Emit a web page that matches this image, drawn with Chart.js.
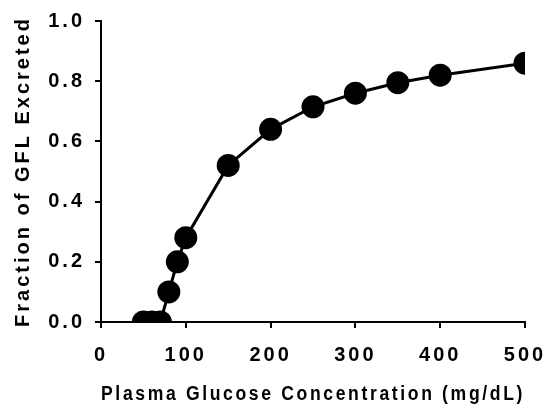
<!DOCTYPE html>
<html>
<head>
<meta charset="utf-8">
<script src="https://cdn.jsdelivr.net/npm/chart.js@4"></script>
<style>
  html, body { margin: 0; padding: 0; background: #fff; }
  #wrap { width: 554px; height: 406px; }
</style>
</head>
<body>
<div id="wrap"><canvas id="chart" width="554" height="406"></canvas></div>
<script>
const glucose = [50, 60, 70, 80, 90, 100, 150, 200, 250, 300, 350, 400, 500];
const fractionExcreted = [0, 0, 0, 0.1, 0.2, 0.28, 0.52, 0.64, 0.715, 0.76, 0.795, 0.82, 0.86];
const xTicks = [0, 100, 200, 300, 400, 500];
const yTicks = [0, 0.2, 0.4, 0.6, 0.8, 1.0];

const tickFont = { family: "Liberation Sans", size: 20, weight: "bold" };
const titleFont = { family: "Liberation Sans", size: 20, weight: "bold" };

const points = glucose.map((g, i) => ({ x: g, y: fractionExcreted[i] }));

// the original uses spaced-out Arial bold for all text
const spacing = {
  id: "spacing",
  beforeDraw(chart) {
    chart.ctx.letterSpacing = "3px";
  },
};

new Chart(document.getElementById("chart").getContext("2d"), {
  type: "scatter",
  data: {
    datasets: [
      {
        data: points,
        showLine: true,
        borderColor: "#000",
        borderWidth: 3,
        pointBackgroundColor: "#000",
        pointBorderColor: "#000",
        pointRadius: 10,
        pointHoverRadius: 10,
        tension: 0,
      },
    ],
  },
  options: {
    responsive: false,
    animation: false,
    layout: { padding: { top: 21, right: 29, left: 0, bottom: 0 } },
    plugins: { legend: { display: false }, tooltip: { enabled: false } },
    scales: {
      x: {
        type: "linear",
        min: 0,
        max: 500,
        afterBuildTicks: (axis) => {
          axis.ticks = xTicks.map((v) => ({ value: v }));
        },
        afterFit: (axis) => {
          axis.height = 84;
          axis.paddingLeft = 0;
          axis.paddingRight = 0;
        },
        grid: { drawOnChartArea: false, drawTicks: true, tickLength: 6, color: "#000", lineWidth: 2 },
        border: { display: true, color: "#000", width: 2 },
        ticks: { color: "#000", font: tickFont, padding: 15, maxRotation: 0 },
        title: {
          display: true,
          text: "Plasma Glucose Concentration (mg/dL)",
          color: "#000",
          font: titleFont,
          padding: { top: 0, bottom: 0 },
        },
      },
      y: {
        min: 0,
        max: 1,
        afterBuildTicks: (axis) => {
          axis.ticks = yTicks.map((v) => ({ value: v }));
        },
        afterFit: (axis) => {
          axis.width = 101;
          axis.paddingTop = 0;
          axis.paddingBottom = 0;
        },
        grid: { drawOnChartArea: false, drawTicks: true, tickLength: 6, color: "#000", lineWidth: 2 },
        border: { display: true, color: "#000", width: 2 },
        ticks: {
          color: "#000",
          font: tickFont,
          padding: 10,
          callback: (v) => Number(v).toFixed(1),
        },
        title: {
          display: true,
          text: "Fraction of GFL Excreted",
          color: "#000",
          font: titleFont,
          padding: { top: 11, bottom: 0 },
        },
      },
    },
  },
  plugins: [spacing],
});
</script>
</body>
</html>
